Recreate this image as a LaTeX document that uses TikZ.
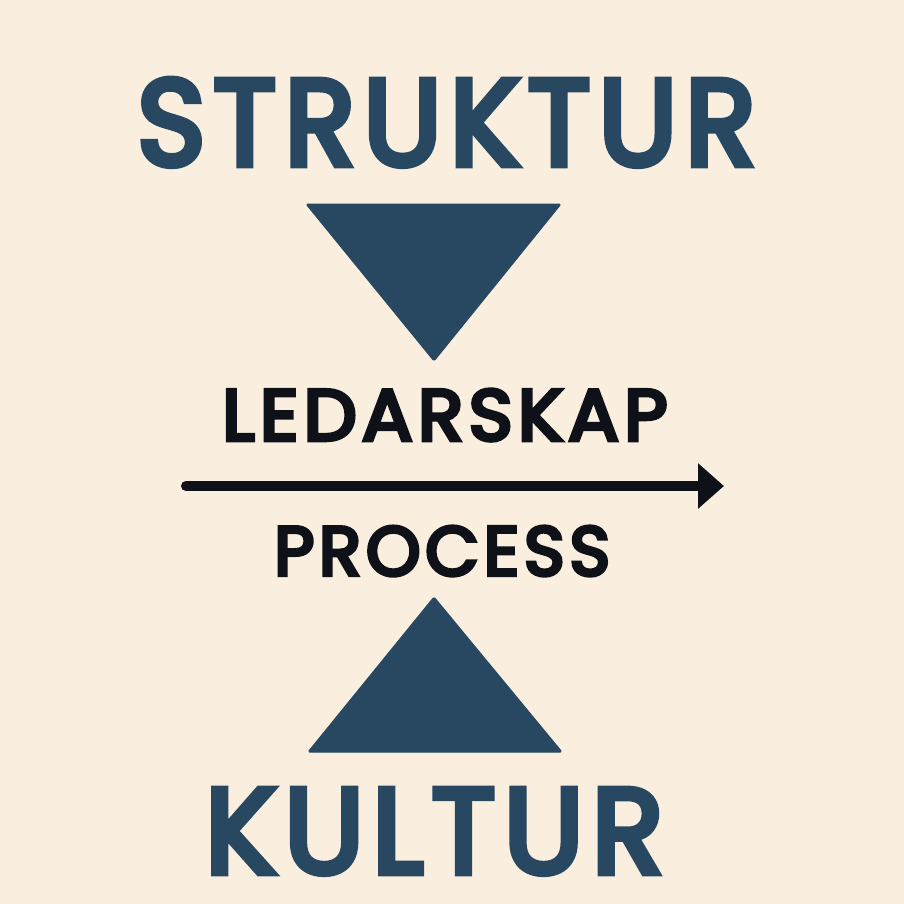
\documentclass[tikz,border=0pt]{standalone}
\usepackage{fontspec}
\usepackage{graphicx}
\newfontfamily\popfont{Poppins}[LetterSpace=7, FakeBold=5.5]
\usetikzlibrary{arrows.meta}
\definecolor{bgcream}{HTML}{FAEFDF}
\definecolor{navy}{HTML}{284862}
\definecolor{inkblack}{HTML}{0E1118}
\tikzset{
  bigword/.style={anchor=south west, inner sep=0pt, text=navy},
  midword/.style={anchor=south west, inner sep=0pt, text=inkblack},
  tri/.style={fill=navy, draw=navy, line width=1bp, line join=round, rounded corners=1.5bp},
  flow/.style={draw=inkblack, line width=10bp, line cap=round, -{Triangle[length=26bp,width=44bp]}}
}
\begin{document}
\begin{tikzpicture}[x=1bp,y=-1bp]
\fill[bgcream] (0,0) rectangle (904,904);
\useasboundingbox (0,0) rectangle (904,904);
\node[bigword] (struktur) at (137,166) {\resizebox{610bp}{86bp}{\popfont STRUKTUR\kern-0.07em}};
\fill[tri] (306,204) -- (561,204) -- (434,361) -- cycle;
\node[midword] (ledarskap) at (222,441) {\resizebox{440bp}{51bp}{\popfont LEDARSKAP\kern-0.07em}};
\coordinate (arrstart) at (186,486);
\coordinate (arrend) at (724,486);
\draw[flow] (arrstart) -- (arrend);
\node[midword] (process) at (274,576) {\resizebox{331bp}{49bp}{\popfont PROCESS\kern-0.07em}};
\fill[tri] (434,597) -- (562,752) -- (308,752) -- cycle;
\node[bigword] (kultur) at (205,874) {\resizebox{450bp}{84bp}{\popfont KULTUR\kern-0.07em}};
\end{tikzpicture}
\end{document}
